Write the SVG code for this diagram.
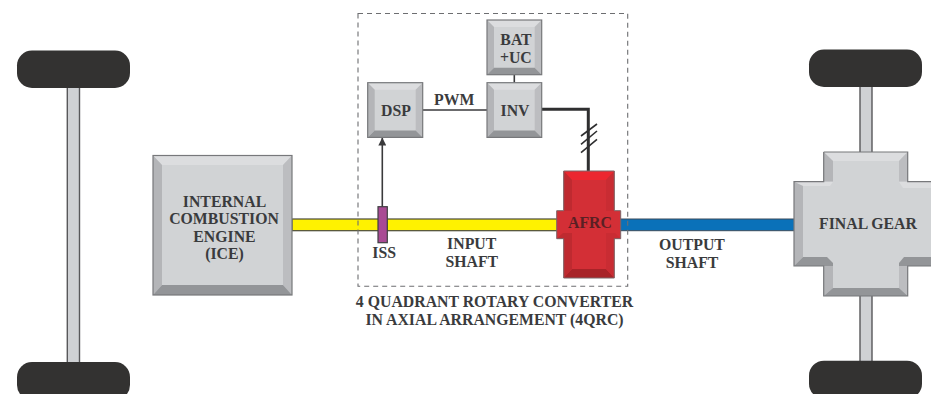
<svg xmlns="http://www.w3.org/2000/svg" width="931" height="394" viewBox="0 0 931 394">
<style>
text{font-family:"Liberation Serif","Times New Roman",serif;font-weight:bold;font-size:15.8px;fill:#3a3b3d;text-anchor:middle}
.wheel{fill:#333231}
.axle{fill:#cfd1d4;stroke:#58585a;stroke-width:1.4}
.face{fill:#d1d3d5}
.edge{fill:none;stroke:#77787b;stroke-width:1.2}
.t{fill:#dcdddf}.l{fill:#b4b5b8}.r{fill:#bcbdc0}.b{fill:#939598}
.sig{fill:none;stroke:#3a3a3c;stroke-width:1.6}
</style>
<defs>
<marker id="arr" viewBox="0 0 10 10" refX="9.5" refY="5" markerWidth="8" markerHeight="8" markerUnits="userSpaceOnUse" orient="auto"><path d="M0 0L10 5L0 10Z" fill="#3a3a3c"/></marker>
</defs>
<rect width="931" height="394" fill="#fff"/>
<g id="left-axle">
<rect class="axle" x="67.3" y="85" width="12.2" height="280"/>
<rect class="wheel" x="17" y="50.5" width="113" height="37.5" rx="15"/>
<rect class="wheel" x="17" y="362" width="113" height="38" rx="15"/>
</g>
<g id="right-axle">
<rect class="axle" x="860" y="84" width="12" height="280"/>
<rect class="wheel" x="809" y="49.5" width="113" height="37.5" rx="15"/>
<rect class="wheel" x="809" y="360.7" width="113" height="38" rx="15"/>
</g>
<g id="connectors">
<rect x="292" y="219" width="268" height="11.7" fill="#fff200" stroke="#4a4a3a" stroke-width="1.2"/>
<rect x="618" y="219" width="178" height="11.7" fill="#0a71b9" stroke="#3a4a5a" stroke-width="1"/>
<path class="sig" d="M382.3 207V138" marker-end="url(#arr)"/>
<path class="sig" d="M422.7 110H487"/>
<path class="sig" d="M514.3 74.7V82.7"/>
<path d="M541.7 109.3H588.3V172" fill="none" stroke="#2f2f30" stroke-width="3"/>
<path d="M581 136L597 124M581 144.3L597 131M581 152.7L597 139.3" fill="none" stroke="#2f2f30" stroke-width="1.6"/>
<rect x="358" y="13.5" width="269.7" height="272.8" fill="none" stroke="#6d6e71" stroke-width="1.1" stroke-dasharray="5 4"/>
</g>
<g id="ice">
<rect class="face" x="153" y="155.5" width="139" height="139.5"/>
<path class="t" d="M153 155.5H292L283 165H162Z"/>
<path class="l" d="M153 155.5L162 165V285L153 295Z"/>
<path class="r" d="M292 155.5L283 165V285L292 295Z"/>
<path class="b" d="M153 295L162 285H283L292 295Z"/>
<rect class="edge" x="153" y="155.5" width="139" height="139.5"/>
<text x="224.5" y="206.7">INTERNAL</text>
<text x="224" y="224">COMBUSTION</text>
<text x="224.5" y="241.7">ENGINE</text>
<text x="224.5" y="259">(ICE)</text>
</g>
<g id="bat">
<rect class="face" x="487" y="20" width="54.7" height="54.7"/>
<path class="t" d="M487 20H541.7L534.7 27H494Z"/>
<path class="l" d="M487 20L494 27V67.7L487 74.7Z"/>
<path class="r" d="M541.7 20L534.7 27V67.7L541.7 74.7Z"/>
<path class="b" d="M487 74.7L494 67.7H534.7L541.7 74.7Z"/>
<rect class="edge" x="487" y="20" width="54.7" height="54.7"/>
<text x="516" y="45">BAT</text>
<text x="515.8" y="63">+UC</text>
</g>
<g id="inv">
<rect class="face" x="487" y="82.7" width="54.7" height="54.7"/>
<path class="t" d="M487 82.7H541.7L534.7 89.7H494Z"/>
<path class="l" d="M487 82.7L494 89.7V130.4L487 137.4Z"/>
<path class="r" d="M541.7 82.7L534.7 89.7V130.4L541.7 137.4Z"/>
<path class="b" d="M487 137.4L494 130.4H534.7L541.7 137.4Z"/>
<rect class="edge" x="487" y="82.7" width="54.7" height="54.7"/>
<text x="515" y="116">INV</text>
</g>
<g id="dsp">
<rect class="face" x="367.7" y="82.7" width="55" height="54.7"/>
<path class="t" d="M367.7 82.7H422.7L415.7 89.7H374.7Z"/>
<path class="l" d="M367.7 82.7L374.7 89.7V130.4L367.7 137.4Z"/>
<path class="r" d="M422.7 82.7L415.7 89.7V130.4L422.7 137.4Z"/>
<path class="b" d="M367.7 137.4L374.7 130.4H415.7L422.7 137.4Z"/>
<rect class="edge" x="367.7" y="82.7" width="55" height="54.7"/>
<text x="396" y="116">DSP</text>
</g>
<text x="454.2" y="105">PWM</text>
<g id="iss">
<rect x="378" y="206.7" width="9.3" height="36" fill="#a94a94" stroke="#3f3f41" stroke-width="1.2"/>
<text x="384.2" y="258.3">ISS</text>
</g>
<text x="471.7" y="249">INPUT</text>
<text x="471.8" y="266.7">SHAFT</text>
<text x="692" y="250">OUTPUT</text>
<text x="692" y="267.5">SHAFT</text>
<g id="afrc">
<path d="M563.7 171H614.3V210.7H620.7V238.7H614.3V278H563.7V238.7H556.7V210.7H563.7Z" fill="#d32f36"/>
<path d="M563.7 171H614.3L606 180H572Z" fill="#ec2730"/>
<path d="M563.7 171L572 180V210.7H563.7Z" fill="#bf2a30"/>
<path d="M614.3 171L606 180V210.7H614.3Z" fill="#c92c33"/>
<path d="M563.7 278L572 269H606L614.3 278Z" fill="#a82328"/>
<path d="M556.7 238.7L563 233H572V269L563.7 278V238.7Z" fill="#bf2a30"/>
<path d="M620.7 238.7L615 233H606V269L614.3 278V238.7Z" fill="#c92c33"/>
<path d="M563.7 171H614.3V210.7H620.7V238.7H614.3V278H563.7V238.7H556.7V210.7H563.7Z" fill="none" stroke="#7c6668" stroke-width="1"/>
<text x="590" y="227.7" style="fill:#5a2024">AFRC</text>
</g>
<g id="final-gear">
<path class="face" d="M823.7 152H907.7V181.7H931V266H907.7V296H823.7V266H794V181.7H823.7Z"/>
<path class="t" d="M823.7 152H907.7L899 161H833Z"/>
<path class="l" d="M823.7 152L833 161V181.7H823.7Z"/>
<path class="r" d="M907.7 152L899 161V181.7H907.7Z"/>
<path class="t" d="M794 181.7H833L830 186H803Z"/>
<path class="t" d="M899 181.7L903 188H931V181.7Z"/>
<path class="l" d="M794 181.7L803 186V257L794 266Z"/>
<path class="b" d="M794 266L803 257H827L833 263V266Z"/>
<path class="b" d="M931 257H904L899 263V266H931Z"/>
<path class="l" d="M823.7 266H833V288L823.7 296Z"/>
<path class="r" d="M899 266H907.7V296L899 288Z"/>
<path class="b" d="M823.7 296L833 288H899L907.7 296Z"/>
<path class="edge" d="M823.7 152H907.7V181.7H931M931 266H907.7V296H823.7V266H794V181.7H823.7V152"/>
<text x="868" y="229">FINAL GEAR</text>
</g>
<text x="494.5" y="306.7">4 QUADRANT ROTARY CONVERTER</text>
<text x="494.5" y="325">IN AXIAL ARRANGEMENT (4QRC)</text>
</svg>
